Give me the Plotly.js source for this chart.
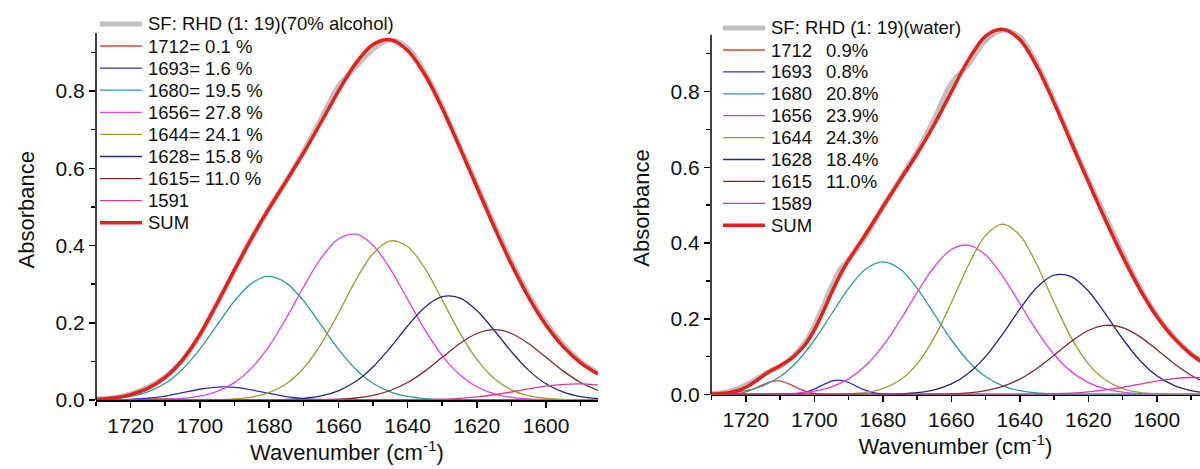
<!DOCTYPE html>
<html><head><meta charset="utf-8">
<script src="https://cdn.plot.ly/plotly-3.0.1.min.js"></script>
<style>html,body{margin:0;padding:0;background:#fff}#chart{width:1200px;height:469px}</style>
</head><body><div id="chart"></div>
<script>
// ---------- data: wavenumber grid (cm-1) ----------
const wn = [1730,1725,1720,1715,1710,1705,1700,1695,1690,1685,1680,1675,1670,1665,1660,1655,1650,1645,1640,1635,1630,1625,1620,1615,1610,1605,1600,1595,1590,1585];

// ---------- left panel: SF: RHD (1:19) (70% alcohol) ----------
const alcData = [0.003,0.006,0.016,0.033,0.060,0.103,0.168,0.250,0.335,0.420,0.497,0.568,0.645,0.728,0.812,0.862,0.908,0.932,0.912,0.848,0.760,0.658,0.556,0.455,0.358,0.272,0.200,0.143,0.100,0.070];
const alc1712x = [1730,1722,1718,1715,1712,1709,1706,1702,1585];
const alc1712 = [0,0.0005,0.0017,0.0026,0.003,0.0026,0.0017,0.0005,0];
const alc1693 = [0.0001,0.0005,0.0017,0.0046,0.0103,0.0188,0.0278,0.0334,0.0328,0.0261,0.0169,0.0089,0.0038,0.0013,0.0004,0,0,0,0,0,0,0,0,0,0,0,0,0,0,0];
const alc1680 = [0.0012,0.0036,0.0092,0.0210,0.0432,0.0797,0.1315,0.1942,0.2563,0.3027,0.32,0.3027,0.2563,0.1942,0.1315,0.0797,0.0432,0.0210,0.0092,0.0036,0.0012,0.0003,0,0,0,0,0,0,0,0];
const alc1656 = [0,0,0.0001,0.0005,0.0014,0.0040,0.0098,0.0221,0.0450,0.0832,0.1396,0.2124,0.2933,0.3672,0.4168,0.4292,0.4008,0.3395,0.2608,0.1818,0.1149,0.0658,0.0342,0.0161,0.0069,0.0027,0.0009,0.0003,0,0];
const alc1644 = [0,0,0,0,0,0,0.0002,0.0008,0.0027,0.0076,0.0190,0.0420,0.0827,0.1447,0.2246,0.3097,0.3791,0.4120,0.3976,0.3406,0.2592,0.1750,0.1050,0.0559,0.0264,0.0111,0.0041,0.0014,0.0004,0.0001];
const alc1628 = [0,0,0,0,0,0,0,0,0,0,0.0004,0.0014,0.0041,0.0104,0.0237,0.0477,0.0854,0.1358,0.1917,0.2403,0.2674,0.2643,0.2318,0.1806,0.1250,0.0767,0.0419,0.0203,0.0087,0.0033];
const alc1615 = [0,0,0,0,0,0,0,0,0,0,0,0,0,0.0007,0.0020,0.0052,0.0120,0.0246,0.0453,0.0748,0.1105,0.1458,0.1722,0.182,0.1722,0.1458,0.1105,0.0748,0.0453,0.0246];
const alc1591 = [0,0,0,0,0,0,0,0,0,0,0,0,0,0,0,0,0,0,0.0004,0.0010,0.0022,0.0044,0.0081,0.0136,0.0207,0.0286,0.0359,0.0407,0.0419,0.0391];
const alcSum = [0.0013,0.0050,0.0140,0.0300,0.0585,0.1040,0.1693,0.2505,0.3368,0.4196,0.4959,0.5674,0.6402,0.7185,0.7990,0.8715,0.9205,0.9329,0.9050,0.8421,0.7554,0.6553,0.5513,0.4482,0.3512,0.2649,0.1933,0.1375,0.0963,0.0671];

// ---------- right panel: SF: RHD (1:19) (water) ----------
const wnFine = [1730,1727.5,1725,1722.5,1720,1717.5,1715,1712.5,1710,1707.5,1705,1702.5,1700,1697.5,1695,1692.5,1690,1687.5,1685,1682.5,1680,1675,1670,1665,1660,1655,1650,1645,1640,1635,1630,1625,1620,1615,1610,1605,1600,1595,1590,1585];
const watData = [0.002,0.004,0.008,0.015,0.026,0.038,0.052,0.064,0.074,0.090,0.112,0.140,0.182,0.232,0.285,0.330,0.356,0.385,0.418,0.456,0.495,0.568,0.642,0.728,0.822,0.872,0.935,0.962,0.944,0.872,0.775,0.668,0.566,0.470,0.374,0.283,0.208,0.152,0.108,0.078];
const watSum = [0.0014,0.0025,0.0050,0.0100,0.0190,0.0330,0.0495,0.0640,0.0760,0.0900,0.1090,0.1341,0.1705,0.2172,0.2686,0.3153,0.3551,0.3897,0.4237,0.4595,0.4957,0.5660,0.6356,0.7129,0.7990,0.8840,0.9465,0.9640,0.9368,0.8654,0.7699,0.6654,0.5614,0.4602,0.3647,0.2785,0.2059,0.1487,0.1062,0.0757];
const wat1712x = [1730,1727.5,1725,1722.5,1720,1717.5,1715,1712.5,1710,1707.5,1705,1702.5,1700,1697.5,1695,1690,1585];
const wat1712 = [0,0.0002,0.0007,0.0026,0.0071,0.0155,0.0261,0.0344,0.0353,0.0282,0.0175,0.0085,0.0032,0.0009,0.0002,0,0];
const wat1693x = [1730,1710,1707.5,1705,1702.5,1700,1697.5,1695,1692.5,1690,1687.5,1685,1682.5,1680,1677.5,1675,1585];
const wat1693 = [0,0.0001,0.0006,0.0021,0.0062,0.0143,0.0253,0.0351,0.0378,0.0317,0.0207,0.0106,0.0042,0.0013,0.0003,0,0];
const wat1680 = [0.0014,0.0039,0.0100,0.0230,0.0473,0.0872,0.1439,0.2125,0.2804,0.3311,0.35,0.3311,0.2804,0.2125,0.1439,0.0872,0.0473,0.0230,0.0100,0.0039,0.0014,0.0004,0,0,0,0,0,0,0,0];
const wat1656 = [0,0,0.0001,0.0004,0.0013,0.0036,0.0090,0.0203,0.0413,0.0764,0.1283,0.1951,0.2694,0.3373,0.3828,0.3942,0.3681,0.3121,0.2398,0.1671,0.1055,0.0604,0.0314,0.0148,0.0063,0.0024,0.0009,0.0003,0,0];
const wat1644 = [0,0,0,0,0,0,0.0001,0.0005,0.0017,0.0056,0.0156,0.0381,0.0810,0.1502,0.2427,0.3420,0.4202,0.45,0.4202,0.3420,0.2427,0.1502,0.0810,0.0381,0.0156,0.0056,0.0017,0.0005,0.0001,0];
const wat1628 = [0,0,0,0,0,0,0,0,0,0,0.0005,0.0017,0.0048,0.0123,0.0279,0.0562,0.1006,0.1600,0.2258,0.2830,0.3150,0.3113,0.2732,0.2127,0.1472,0.0903,0.0493,0.0239,0.0103,0.0039];
const wat1615 = [0,0,0,0,0,0,0,0,0,0,0,0,0,0.0006,0.0017,0.0044,0.0103,0.0216,0.0407,0.0687,0.1036,0.1399,0.1689,0.1826,0.1766,0.1529,0.1184,0.0821,0.0509,0.0282];
const wat1589 = [0,0,0,0,0,0,0,0,0,0,0,0,0,0,0,0,0,0,0.0003,0.0007,0.0017,0.0036,0.0069,0.0120,0.0190,0.0273,0.0356,0.0419,0.0449,0.0436];

// ---------- legend texts ----------
const alcTitle = "SF: RHD (1: 19)(70% alcohol)";
const alcLabels = ["1712= 0.1 %","1693= 1.6 %","1680= 19.5 %","1656= 27.8 %","1644= 24.1 %","1628= 15.8 %","1615= 11.0 %","1591","SUM"];
const watTitle = "SF: RHD (1: 19)(water)";
const watPeaks = ["1712","1693","1680","1656","1644","1628","1615","1589","SUM"];
const watPct = ["0.9%","0.8%","20.8%","23.9%","24.3%","18.4%","11.0%"];

// ---------- styles ----------
const colors = ['#e0403a','#2c2cc8','#2e9c9c','#e040e6','#9c9c2c','#26267e','#862626','#d8389e','#e8201a'];
const dataColor = '#c0c0c0';
const FONT = 'Arial, "Liberation Sans", sans-serif';
const W = 1200, H = 469;
const YTOP = 0.95;

function tr(x, y, color, width, xa, ya) {
  return {x: x, y: y, type: 'scatter', mode: 'lines', xaxis: xa, yaxis: ya,
          line: {color: color, width: width, shape: 'spline', smoothing: 0.9},
          showlegend: false, hoverinfo: 'skip'};
}

const alcComps = [[alc1712x, alc1712],[wn, alc1693],[wn, alc1680],[wn, alc1656],[wn, alc1644],[wn, alc1628],[wn, alc1615],[wn, alc1591]];
const watComps = [[wat1712x, wat1712],[wat1693x, wat1693],[wn, wat1680],[wn, wat1656],[wn, wat1644],[wn, wat1628],[wn, wat1615],[wn, wat1589]];

const traces = [];
traces.push(tr(wn, alcData, dataColor, 5, 'x', 'y'));
alcComps.forEach((c, i) => traces.push(tr(c[0], c[1], colors[i], 1.3, 'x', 'y')));
traces.push(tr(wn, alcSum, colors[8], 3.5, 'x', 'y'));
traces.push(tr(wnFine, watData, dataColor, 5, 'x2', 'y2'));
watComps.forEach((c, i) => traces.push(tr(c[0], c[1], colors[i], 1.3, 'x2', 'y2')));
traces.push(tr(wnFine, watSum, colors[8], 3.5, 'x2', 'y2'));

// ---------- custom legends (paper coordinates) ----------
const annotations = [], shapes = [];
function txt(xpx, ypx, text) {
  annotations.push({xref: 'paper', yref: 'paper', x: xpx / W, y: 1 - ypx / H, xanchor: 'left', yanchor: 'middle',
                    text: text, showarrow: false, font: {family: FONT, size: 18.5, color: '#111'}});
}
function legRow(x0, x1, tx, ypx, color, width, text) {
  shapes.push({type: 'line', xref: 'paper', yref: 'paper', x0: x0 / W, x1: x1 / W, y0: 1 - ypx / H, y1: 1 - ypx / H,
               line: {color: color, width: width}});
  txt(tx, ypx, text);
}
legRow(100, 142, 146, 24, dataColor, 5, alcTitle);
alcLabels.forEach((t, i) => legRow(100, 142, 146, 46 + 22.1 * i, colors[i], i === 8 ? 3.5 : 1.3, t));
legRow(723, 765, 769, 28, dataColor, 5, watTitle);
watPeaks.forEach((t, i) => legRow(723, 765, 769, 50 + 21.9 * i, colors[i], i === 8 ? 3.5 : 1.3, t));
watPct.forEach((t, i) => txt(824, 50 + 21.9 * i, t));

// y-axis lines drawn up to 0.95 (plot area is a bit taller so the curves are not clipped)
shapes.push({type: 'line', xref: 'x domain', yref: 'y', x0: 0, x1: 0, y0: 0, y1: YTOP, line: {color: '#000', width: 1.5}});
shapes.push({type: 'line', xref: 'x2 domain', yref: 'y2', x0: 0, x1: 0, y0: 0, y1: YTOP, line: {color: '#000', width: 1.5}});

// ---------- axes ----------
function xax(domain, range, anchor) {
  return {domain: domain, range: range, anchor: anchor, showline: true, linecolor: '#000', linewidth: 1.5,
          ticks: 'outside', ticklen: 6, tickwidth: 1.5, tickcolor: '#000', dtick: 20, tick0: 1600,
          minor: {dtick: 10, ticks: 'outside', ticklen: 4, tickwidth: 1.5, tickcolor: '#000', showgrid: false},
          showgrid: false, zeroline: false, layer: 'below traces',
          tickfont: {family: FONT, size: 21, color: '#111'},
          title: {text: 'Wavenumber (cm<sup>-1</sup>)', font: {family: FONT, size: 22, color: '#111'}, standoff: 2}};
}
function yax(domain, anchor, ytop) {
  return {domain: domain, range: [0, ytop], anchor: anchor, showline: false,
          ticks: 'outside', ticklen: 6, tickwidth: 1.5, tickcolor: '#000', tickvals: [0, 0.2, 0.4, 0.6, 0.8], tickformat: '.1f',
          minor: {tickvals: [0.1, 0.3, 0.5, 0.7, 0.9], ticks: 'outside', ticklen: 4, tickwidth: 1.5, tickcolor: '#000', showgrid: false},
          showgrid: false, zeroline: false, layer: 'below traces',
          tickfont: {family: FONT, size: 21, color: '#111'},
          title: {text: 'Absorbance', font: {family: FONT, size: 22, color: '#111'}, standoff: 14}};
}
// pixel geometry: left axis 0 at y=400 (386.25 px/unit), right axis 0 at y=394.5 (378.75 px/unit)
const ytopExt = 0.985;
const layout = {
  width: W, height: H, margin: {l: 0, r: 0, t: 0, b: 0},
  paper_bgcolor: '#fff', plot_bgcolor: 'rgba(0,0,0,0)', showlegend: false, hovermode: false,
  xaxis: xax([96 / W, 598 / W], [1730, 1585], 'y'),
  yaxis: yax([69 / H, (69 + ytopExt * 386.25) / H], 'x', ytopExt),
  xaxis2: xax([711 / W, 1], [1730.2, 1587.4], 'y2'),
  yaxis2: yax([74.5 / H, (74.5 + ytopExt * 378.75) / H], 'x2', ytopExt),
  annotations: annotations, shapes: shapes
};

Plotly.newPlot('chart', traces, layout, {staticPlot: true, displayModeBar: false});
</script>
</body></html>
